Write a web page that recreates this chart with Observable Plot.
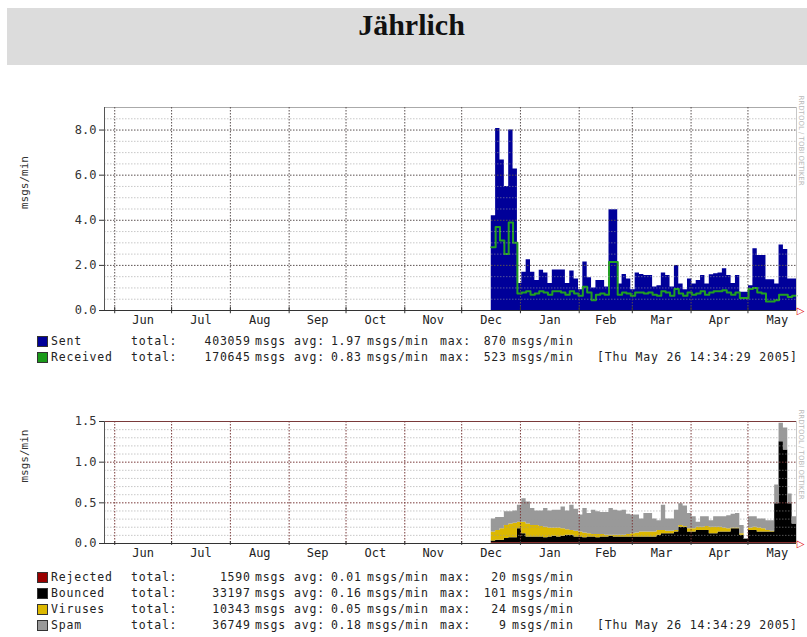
<!DOCTYPE html>
<html>
<head>
<meta charset="utf-8">
<script src="https://cdn.jsdelivr.net/npm/d3@7"></script>
<script src="https://cdn.jsdelivr.net/npm/@observablehq/plot@0.6"></script>
<style>
  html, body { margin: 0; padding: 0; background: #fff; }
  #page { position: relative; width: 807px; height: 637px; overflow: hidden; font-family: "DejaVu Sans Mono", monospace; }
  .band { position: absolute; left: 7px; top: 8px; width: 800px; height: 57px; background: #dcdcdc; }
  .title { position: absolute; left: 8px; width: 807px; top: 10px; line-height: 30px; text-align: center;
           font-family: "Liberation Serif", "Times New Roman", serif; font-weight: bold; font-size: 30px; color: #111; }
  .chart { position: absolute; left: 0; }
  .lg { position: absolute; font-size: 11.5px; letter-spacing: 0.8px; line-height: 14px; color: #222; white-space: pre; }
  .sw { position: absolute; width: 9px; height: 9px; border: 1px solid #333; }
</style>
</head>
<body>
<div id="page">
  <div class="band"></div>
  <div class="title">Jährlich</div>
</div>
<script>
// ---------- data ----------
const monthNames = ["Jun","Jul","Aug","Sep","Oct","Nov","Dec","Jan","Feb","Mar","Apr","May"];
const stepDays = 2.3; // consolidation step of the yearly RRA as drawn

// top graph (msgs/min), one value per consolidated step, Dec 2004 .. May 2005
const sent = [4.2, 8.07, 6.67, 5.5, 8.0, 6.27, 1.2, 1.7, 2.25, 1.7,
  1.33, 1.78, 1.66, 1.2, 1.8, 1.8, 1.8, 1.2, 1.75, 1.4,
  0.92, 2.15, 1.45, 1.0, 1.33, 1.33, 1.04, 4.47, 4.47, 1.18,
  1.6, 1.4, 0.92, 1.66, 1.6, 1.55, 1.55, 1.04, 1.1, 1.66,
  1.55, 1.04, 2.0, 1.18, 0.92, 1.4, 1.18, 1.33, 1.55, 1.18,
  1.58, 1.63, 1.66, 1.85, 1.55, 1.2, 1.55, 0.81, 0.81, 1.1,
  2.74, 2.44, 2.44, 1.36, 1.36, 1.18, 2.9, 2.7, 1.4, 1.4];
const received = [2.8, 3.7, 3.1, 2.5, 3.9, 3.0, 0.75, 0.8, 0.85, 0.7,
  0.75, 0.85, 0.8, 0.7, 0.85, 0.85, 0.8, 0.7, 0.85, 0.75,
  0.65, 1.05, 0.8, 0.45, 0.7, 0.75, 0.7, 2.15, 2.15, 0.7,
  0.8, 0.75, 0.65, 0.8, 0.8, 0.75, 0.8, 0.7, 0.65, 0.85,
  0.8, 0.65, 0.95, 0.75, 0.65, 0.8, 0.7, 0.75, 0.85, 0.7,
  0.8, 0.85, 0.85, 0.9, 0.8, 0.7, 0.8, 0.55, 0.55, 0.95,
  1.0, 0.8, 0.75, 0.4, 0.4, 0.45, 0.7, 0.7, 0.6, 0.65];

// bottom graph (msgs/min), stacked
const rejected = [0.01,0.01,0.01,0.01,0.01,0.01,0.01,0.01,0.01,0.01,
  0.01,0.01,0.01,0.01,0.01,0.01,0.01,0.01,0.01,0.01,
  0.01,0.01,0.01,0.01,0.01,0.01,0.01,0.01,0.01,0.01,
  0.01,0.01,0.01,0.01,0.01,0.01,0.01,0.01,0.01,0.01,
  0.01,0.01,0.01,0.01,0.01,0.01,0.01,0.01,0.01,0.01,
  0.01,0.01,0.01,0.01,0.01,0.01,0.01,0.01,0.01,0.01,
  0.01,0.01,0.01,0.01,0.01,0.01,0.01,0.01,0.01,0.01];
const bounced = [0.02,0.03,0.03,0.05,0.06,0.06,0.17,0.11,0.07,0.07,
  0.07,0.07,0.06,0.07,0.08,0.07,0.08,0.09,0.09,0.07,
  0.07,0.06,0.07,0.07,0.06,0.07,0.07,0.08,0.07,0.07,
  0.07,0.07,0.07,0.07,0.07,0.07,0.07,0.07,0.09,0.11,
  0.11,0.11,0.13,0.19,0.19,0.13,0.13,0.15,0.15,0.15,
  0.11,0.11,0.13,0.13,0.13,0.17,0.17,0.09,0.04,0.15,
  0.15,0.13,0.13,0.13,0.13,0.48,1.24,1.14,0.48,0.23];
const viruses = [0.11,0.12,0.14,0.16,0.17,0.18,0.08,0.14,0.16,0.14,
  0.14,0.13,0.13,0.11,0.10,0.11,0.09,0.07,0.06,0.07,
  0.06,0.06,0.04,0.03,0.04,0.03,0.02,0.01,0.02,0.02,
  0.02,0.03,0.04,0.05,0.06,0.06,0.06,0.06,0.06,0.04,
  0.03,0.03,0.02,0.02,0.01,0.04,0.04,0.04,0.04,0.05,
  0.08,0.08,0.06,0.05,0.04,0.01,0.01,0.02,0.00,0.03,
  0.04,0.05,0.04,0.02,0.01,0.00,0.00,0.00,0.00,0.00];
const spam = [0.16,0.16,0.14,0.17,0.15,0.15,0.21,0.29,0.27,0.21,
  0.18,0.19,0.23,0.21,0.22,0.22,0.27,0.23,0.31,0.27,
  0.21,0.30,0.25,0.30,0.28,0.27,0.28,0.33,0.31,0.30,
  0.31,0.25,0.23,0.22,0.16,0.23,0.23,0.16,0.12,0.31,
  0.15,0.15,0.25,0.27,0.25,0.19,0.15,0.06,0.13,0.12,
  0.08,0.13,0.13,0.14,0.16,0.17,0.18,0.10,0.01,0.14,
  0.13,0.11,0.12,0.12,0.13,0.23,0.23,0.27,0.12,0.09];

// legend texts
const topNames = ["Sent", "Received"];
const topColors = ["#000099", "#1a9a1a"];
const topTotals = ["403059", "170645"];
const topAvgs = ["1.97", "0.83"];
const topMaxs = ["870", "523"];
const botNames = ["Rejected", "Bounced", "Viruses", "Spam"];
const botColors = ["#990000", "#000000", "#dcb800", "#999999"];
const botTotals = ["1590", "33197", "10343", "36749"];
const botAvgs = ["0.01", "0.16", "0.05", "0.18"];
const botMaxs = ["20", "101", "24", "9"];
const stamp = "[Thu May 26 14:34:29 2005]";
const topYTicks = [0, 2, 4, 6, 8];
const botYTicks = [0, 0.5, 1.0, 1.5];

// ---------- derived tables ----------
const DAY = 86400000;
const tEnd = new Date(Date.UTC(2005, 4, 26, 14, 34, 29));
const tStart = new Date(Date.UTC(2004, 4, 26, 14, 34, 29));
const n = sent.length;
const dataStart = tEnd.getTime() - n * stepDays * DAY;
const stepTime = i => new Date(i >= n ? tEnd.getTime() : dataStart + i * stepDays * DAY);

const topRows = d3.range(n + 1).map(i => ({t: stepTime(i), sent: sent[Math.min(i, n - 1)], recv: received[Math.min(i, n - 1)]}));
const botSeries = [rejected, bounced, viruses, spam];
const botRows = [];
d3.range(n + 1).forEach(i => botNames.forEach((s, k) => botRows.push({t: stepTime(i), series: s, v: botSeries[k][Math.min(i, n - 1)]})));

const monthStarts = d3.utcMonth.range(new Date(Date.UTC(2004, 5, 1)), new Date(Date.UTC(2005, 5, 1)));
const monthLabels = monthStarts.map((d, i) => ({t: new Date(d.getTime() + (d3.utcMonth.offset(d, 1) - d) / 2), name: monthNames[i]}));

const MONO = "'DejaVu Sans Mono', monospace";
const W = 807, ML = 104, MR = 11;

function graph({top, height, mt, mb, yMax, ticks, minorStep, majorColor, frameColor, marks}) {
  const minor = d3.range(0, yMax + 1e-9, minorStep).map(v => +v.toFixed(3)).filter(v => v > 0 && !ticks.includes(v));
  const p = Plot.plot({
    width: W, height, marginLeft: ML, marginRight: MR, marginTop: mt, marginBottom: mb,
    style: {fontFamily: MONO, fontSize: "12px", color: "#333", background: "transparent", overflow: "visible"},
    x: {type: "utc", domain: [tStart, tEnd], axis: null},
    y: {domain: [0, yMax], ticks, tickFormat: d3.format(".1f"), tickSize: 5, tickPadding: 3, label: null},
    color: {domain: botNames, range: botColors},
    marks: [
      ...marks,
      Plot.ruleY(minor, {stroke: "#9a9a9a", strokeOpacity: 0.55, strokeDasharray: "1.5 1.5"}),
      Plot.ruleY([yMax], {stroke: frameColor}),
      Plot.ruleY(ticks.filter(d => d > 0), {stroke: majorColor, strokeDasharray: "1.5 1.5"}),
      Plot.ruleX(monthStarts, {stroke: majorColor, strokeDasharray: "1.5 1.5"}),
      Plot.ruleX([tEnd], {stroke: "#c8c8c8"}),
      Plot.ruleX([tStart], {stroke: "#555"}),
      Plot.ruleY([0], {stroke: "#333", strokeWidth: 1.2}),
      Plot.ruleX(monthStarts, {y1: -yMax * 0.016, y2: yMax * 0.016, stroke: "#333"}),
      Plot.text(monthLabels, {x: "t", text: "name", frameAnchor: "bottom", dy: 13, fill: "#222"}),
      Plot.text(["msgs/min"], {frameAnchor: "left", dx: -80, rotate: -90, fontSize: 11, fill: "#333"}),
      Plot.text(["\u25B7"], {x: () => tEnd, y: () => 0, dx: 4, fill: "#e00000", fontSize: 10, fontFamily: "DejaVu Sans"}),
      Plot.text(["RRDTOOL / TOBI OETIKER"], {frameAnchor: "top-right", rotate: 90, textAnchor: "start", dx: 7, dy: -12, fontSize: 7, fill: "#b8b8b8", fontFamily: "DejaVu Sans"})
    ]
  });
  p.classList.add("chart");
  p.style.top = top + "px";
  document.getElementById("page").appendChild(p);
}

graph({top: 90, height: 245, mt: 17, mb: 25, yMax: 9, ticks: topYTicks, minorStep: 0.5,
  majorColor: "#5a5050", frameColor: "#aaaaaa",
  marks: [
    Plot.areaY(topRows, {x: "t", y: "sent", curve: "step-after", fill: "#000099"}),
    Plot.lineY(topRows, {x: "t", y: "recv", curve: "step-after", stroke: "#22a022", strokeWidth: 2})
  ]});

graph({top: 405, height: 160, mt: 16, mb: 22, yMax: 1.5, ticks: botYTicks, minorStep: 0.1,
  majorColor: "#7a3a3a", frameColor: "#7a3a3a",
  marks: [
    Plot.areaY(botRows, {x: "t", y: "v", fill: "series", z: "series", order: botNames, curve: "step-after"})
  ]});

// ---------- legends ----------
const page = document.getElementById("page");
function span(text, x, y, right) {
  const s = document.createElement("span");
  s.className = "lg";
  s.textContent = text;
  s.style.top = (y - 7) + "px";
  if (right) { s.style.right = (W - x) + "px"; s.style.marginRight = "-0.8px"; }
  else s.style.left = x + "px";
  page.appendChild(s);
}
function legend(rowsY, names, colors, totals, avgs, maxs) {
  names.forEach((name, i) => {
    const y = rowsY[i];
    const sw = document.createElement("div");
    sw.className = "sw";
    sw.style.left = "37px"; sw.style.top = (y - 5) + "px"; sw.style.background = colors[i];
    page.appendChild(sw);
    span(name, 51, y);
    span("total:", 131, y);
    span(totals[i], 250, y, true);
    span("msgs", 255, y);
    span("avg:", 294, y);
    span(avgs[i], 361, y, true);
    span("msgs/min", 367, y);
    span("max:", 440, y);
    span(maxs[i], 506, y, true);
    span("msgs/min", 512, y);
    if (i === names.length - 1) span(stamp, 597, y);
  });
}
legend([341, 357], topNames, topColors, topTotals, topAvgs, topMaxs);
legend([577, 593, 609, 625], botNames, botColors, botTotals, botAvgs, botMaxs);
</script>
</body>
</html>
